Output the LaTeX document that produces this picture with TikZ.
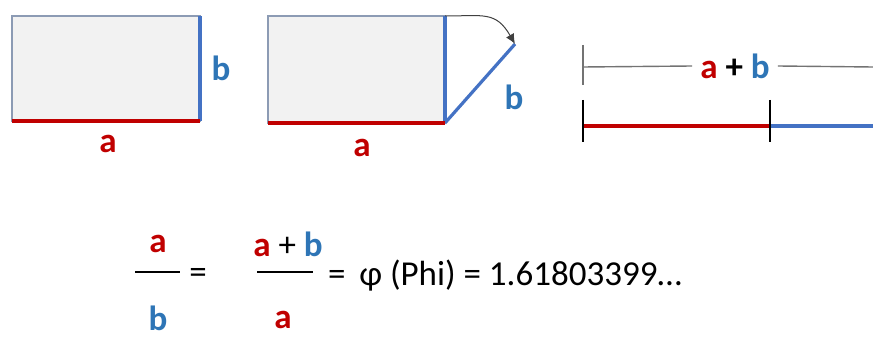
\documentclass[tikz,border=0pt]{standalone}
\usepackage{fontspec}
\setmainfont{Carlito}
\usetikzlibrary{arrows.meta, positioning, calc}
\definecolor{sidea}{RGB}{192,0,0}
\definecolor{sideb}{RGB}{46,117,182}
\definecolor{lineb}{RGB}{68,114,196}
\definecolor{rimgray}{RGB}{140,155,180}
\definecolor{boxfill}{RGB}{242,242,242}

\begin{document}
\begin{tikzpicture}[x=1pt, y=-1pt,
    rect/.style={draw=rimgray, fill=boxfill, line width=2pt},
    edgea/.style={draw=sidea, line width=3.6pt},
    edgeb/.style={draw=lineb, line width=3.2pt},
    lbl/.style={font=\fontsize{35}{35}\selectfont\bfseries, inner sep=0pt},
    eqn/.style={font=\fontsize{35}{35}\selectfont, inner sep=0pt},
    tick/.style={draw=black, line width=2.4pt},
    bar/.style={draw=black, line width=1.8pt},
    arrow/.style={-{Latex[length=10pt, width=9pt]}, draw=black!75, line width=1pt}
]
    \useasboundingbox (0,0) rectangle (873,339);

    % first rectangle
    \coordinate (r1tl) at (12,16);
    \coordinate (r1br) at (200,121);
    \filldraw[rect] (r1tl) rectangle (r1br);
    \draw[edgeb] (r1br) -- (r1br |- r1tl);
    \draw[edgea] (r1br) -- (r1tl |- r1br);
    \node[lbl, text=sideb] (r1b) at (221,68) {b};
    \node[lbl, text=sidea] (r1a) at (108,144) {a};

    % second rectangle, side b turned down
    \coordinate (r2tl) at (268,16);
    \coordinate (r2br) at (445,123);
    \coordinate (tip) at (515,44);
    \filldraw[rect] (r2tl) rectangle (r2br);
    \draw[edgeb] (r2br) -- (r2br |- r2tl);
    \draw[edgeb] (r2br) -- (tip);
    \draw[edgea] (r2br) -- (r2tl |- r2br);
    \draw[arrow] (r2br |- r2tl) to[out=0, in=120, looseness=1.3] (tip);
    \node[lbl, text=sideb] (r2b) at (514,97) {b};
    \node[lbl, text=sidea] (r2a) at (362,148) {a};

    % segment a + b
    \node[lbl, inner xsep=8pt] (sum) at (735,66) {\textcolor{sidea}{a} + \textcolor{sideb}{b}};
    \coordinate (sl) at (583,67);
    \coordinate (sr) at (873,67);
    \draw[draw=black!55, line width=1.4pt] (sl) -- (sum.west);
    \draw[draw=black!55, line width=1.4pt] (sum.east) -- (sr);
    \draw[draw=black!55, line width=1.4pt] ($(sl)+(0,-22)$) -- ($(sl)+(0,18)$);
    \coordinate (p0) at (583,126);
    \coordinate (p1) at (770,126);
    \coordinate (p2) at (873,126);
    \draw[edgea] (p0) -- (p1);
    \draw[edgeb] (p1) -- (p2);
    \draw[tick] ($(p0)+(0,-26)$) -- ($(p0)+(0,16)$);
    \draw[tick] ($(p1)+(0,-26)$) -- ($(p1)+(0,16)$);

    % ratio
    \coordinate (f1l) at (135,272);
    \coordinate (f1r) at (180,272);
    \draw[bar] (f1l) -- (f1r);
    \node[lbl, text=sidea] (num1) at (158,244) {a};
    \node[lbl, text=sideb] (den1) at (158,318) {b};
    \node[eqn] (eq1) at (198,276) {=};
    \coordinate (f2l) at (257,272);
    \coordinate (f2r) at (313,272);
    \draw[bar] (f2l) -- (f2r);
    \node[eqn] (num2) at (288,244) {\textbf{\textcolor{sidea}{a}} + \textbf{\textcolor{sideb}{b}}};
    \node[lbl, text=sidea] (den2) at (283,320) {a};
    \node[eqn, anchor=west] (phi) at (328,276) {=\, φ (Phi) = 1.61803399…};
\end{tikzpicture}
\end{document}
